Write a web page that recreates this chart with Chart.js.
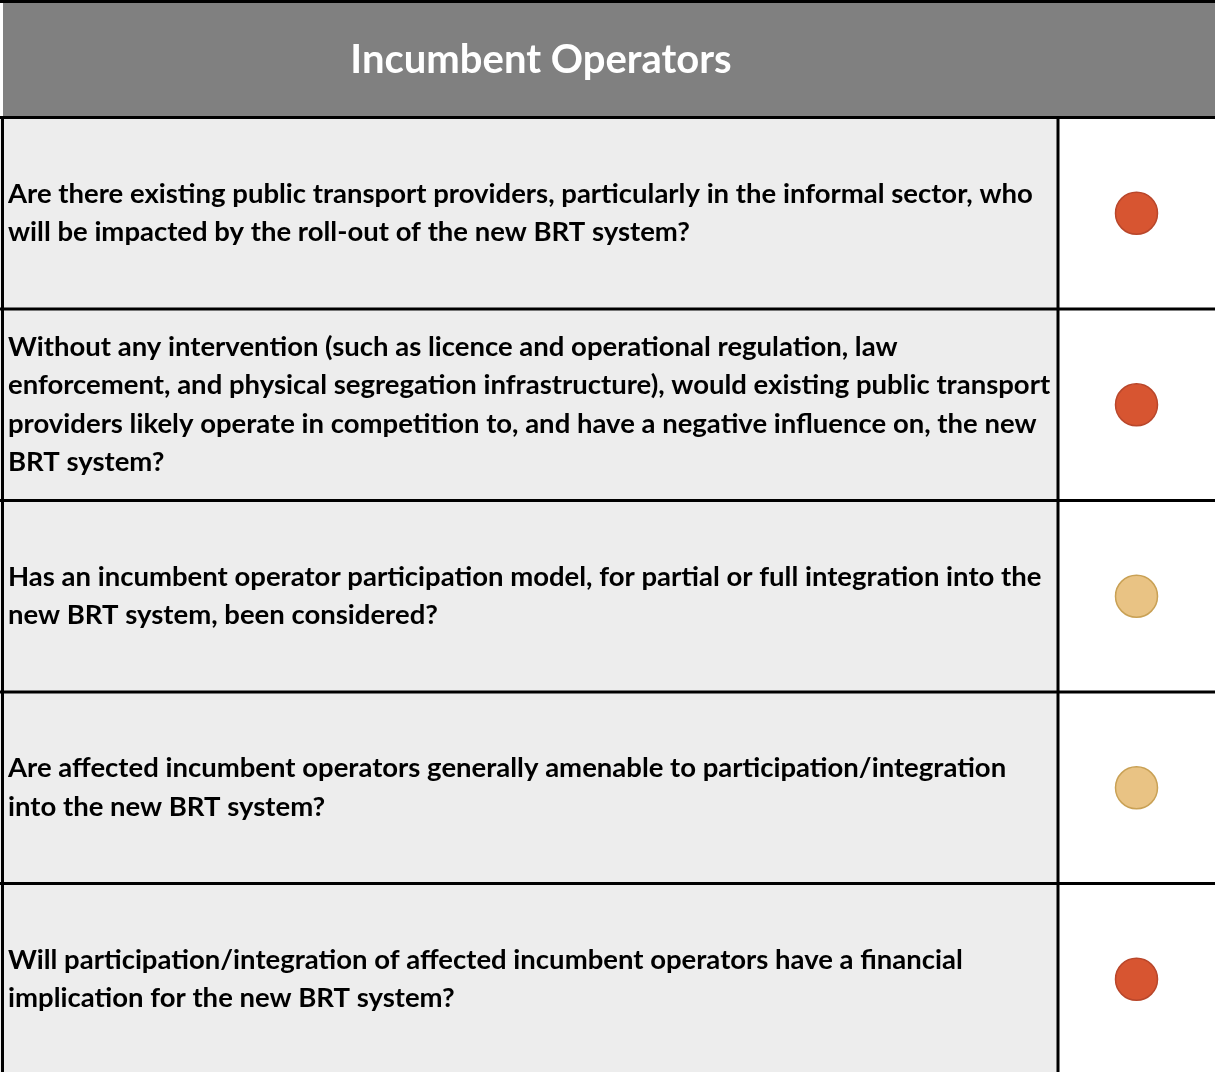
<!DOCTYPE html>
<html>
<head>
<meta charset="utf-8">
<script src="https://cdn.jsdelivr.net/npm/chart.js@4.4.1/dist/chart.umd.min.js"></script>
<style>
  html, body { margin: 0; padding: 0; background: #fff; overflow: hidden; }
  #wrap { width: 1215px; height: 1072px; overflow: hidden; }
</style>
</head>
<body>
<div id="wrap"><canvas id="riskChart" width="1215" height="1075"></canvas></div>
<script>
const sectionTitle = 'Incumbent Operators';

// one entry per row, already broken into the lines seen in the picture
const questions = [
  ['Are there existing public transport providers, particularly in the informal sector, who',
   'will be impacted by the roll-out of the new BRT system?'],
  ['Without any intervention (such as licence and operational regulation, law',
   'enforcement, and physical segregation infrastructure), would existing public transport',
   'providers likely operate in competition to, and have a negative influence on, the new',
   'BRT system?'],
  ['Has an incumbent operator participation model, for partial or full integration into the',
   'new BRT system, been considered?'],
  ['Are affected incumbent operators generally amenable to participation/integration',
   'into the new BRT system?'],
  ['Will participation/integration of affected incumbent operators have a financial',
   'implication for the new BRT system?']
];

// rating per row
const ratings = ['red', 'red', 'amber', 'amber', 'red'];

const fillColors = { red: '#D75531', amber: '#E9C384' };
const edgeColors = { red: '#B9472B', amber: '#C9A155' };

const headerHeight = 117.5;
const lineW = 3;

const tablePlugin = {
  id: 'tableFrame',
  beforeDraw(chart) {
    const { ctx, chartArea, width, height } = chart;
    ctx.save();
    ctx.fillStyle = '#ffffff';
    ctx.fillRect(0, 0, width, height);
    // header band
    ctx.fillStyle = '#808080';
    ctx.fillRect(3, 0, width - 3, headerHeight);
    ctx.fillStyle = '#000000';
    ctx.fillRect(0, 0, width, 3);
    // question column background
    ctx.fillStyle = '#EDEDED';
    ctx.fillRect(0, chartArea.top, chartArea.left, height - chartArea.top);
    ctx.restore();
  },
  afterDraw(chart) {
    const { ctx, chartArea, width, height } = chart;
    const y = chart.scales.y;
    ctx.save();
    ctx.strokeStyle = '#000000';
    ctx.lineWidth = lineW;
    ctx.beginPath();
    for (let i = 0; i < questions.length; i++) {
      const py = y.getPixelForValue(i - 0.5);
      ctx.moveTo(0, py);
      ctx.lineTo(width, py);
    }
    ctx.moveTo(chartArea.left, chartArea.top);
    ctx.lineTo(chartArea.left, height);
    ctx.moveTo(2.5, chartArea.top);
    ctx.lineTo(2.5, height);
    ctx.stroke();

    ctx.fillStyle = '#ffffff';
    ctx.font = 'bold 40px Lato';
    ctx.textAlign = 'center';
    ctx.textBaseline = 'alphabetic';
    ctx.fillText(sectionTitle, chartArea.left / 2 + 12, 73);
    ctx.restore();
  }
};

const ctx = document.getElementById('riskChart').getContext('2d');
new Chart(ctx, {
  type: 'scatter',
  data: {
    datasets: [{
      data: ratings.map((r, i) => ({ x: 0.5, y: i })),
      pointRadius: 21,
      pointHoverRadius: 21,
      pointBackgroundColor: ratings.map(r => fillColors[r]),
      pointBorderColor: ratings.map(r => edgeColors[r]),
      pointBorderWidth: 1.5
    }]
  },
  options: {
    responsive: false,
    animation: false,
    layout: { autoPadding: false, padding: { top: headerHeight, left: 8, right: 0, bottom: 0 } },
    plugins: {
      legend: { display: false },
      tooltip: { enabled: false },
      title: { display: false }
    },
    scales: {
      x: { type: 'linear', min: 0, max: 1, display: false },
      y: {
        type: 'category',
        labels: questions,
        offset: true,
        grid: { display: false },
        border: { display: false },
        ticks: {
          crossAlign: 'far',
          padding: 0,
          color: '#000000',
          font: { family: 'Lato', size: 27.5, weight: 'bold', lineHeight: 1.4 }
        },
        afterFit(scale) {
          scale.width = 1050;
          scale.paddingTop = 0;
          scale.paddingBottom = 0;
        }
      }
    }
  },
  plugins: [tablePlugin]
});
</script>
</body>
</html>
